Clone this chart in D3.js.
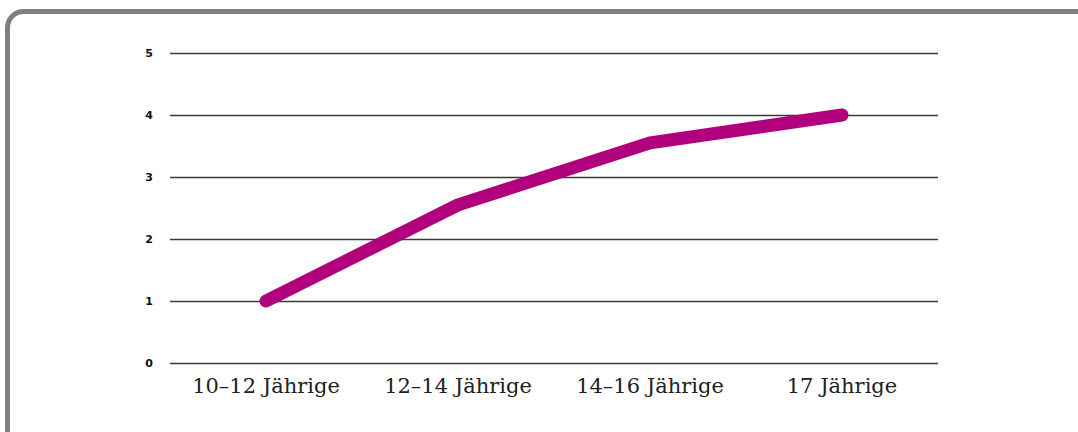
<!DOCTYPE html>
<html><head><meta charset="utf-8">
<script src="https://cdn.jsdelivr.net/npm/d3@7"></script>
<style>body{margin:0;background:#fff;}svg{display:block;}</style>
</head><body>
<svg id="c" width="1078" height="432"></svg>
<script>
const categories = ["10–12 Jährige", "12–14 Jährige", "14–16 Jährige", "17 Jährige"];
const values = [1.0, 2.55, 3.55, 4.0];
const yTicks = [0, 1, 2, 3, 4, 5];

const svg = d3.select("#c");
svg.append("rect").attr("x", 7.5).attr("y", 11.5).attr("width", 1110).attr("height", 460)
  .attr("rx", 16).attr("fill", "#fff").attr("stroke", "#7f7f80").attr("stroke-width", 5);

const x = d3.scaleBand().domain(categories).range([170, 938]);
const y = d3.scaleLinear().domain([0, 5]).range([363, 53]);

const yAxis = svg.append("g").attr("transform", "translate(170,0)")
  .call(d3.axisLeft(y).tickValues(yTicks).tickSize(-768).tickPadding(17).tickFormat(d3.format("d")));
yAxis.select(".domain").remove();
yAxis.selectAll(".tick line").attr("stroke", "#3a3a3a").attr("stroke-width", 1.5);
yAxis.selectAll(".tick text").attr("fill", "#111").style("font-family", "DejaVu Sans").style("font-weight", "bold").style("font-size", "11px");

const xAxis = svg.append("g").attr("transform", "translate(0,363)")
  .call(d3.axisBottom(x).tickSize(0).tickPadding(15));
xAxis.select(".domain").remove();
xAxis.selectAll(".tick text").attr("fill", "#222").style("font-family", "DejaVu Serif").style("font-size", "21px");

const line = d3.line().x((d, i) => x(categories[i]) + x.bandwidth() / 2).y(d => y(d));
svg.append("path").datum(values).attr("d", line).attr("fill", "none")
  .attr("stroke", "#b0007c").attr("stroke-width", 13).attr("stroke-linecap", "round").attr("stroke-linejoin", "round");
</script>
</body></html>
